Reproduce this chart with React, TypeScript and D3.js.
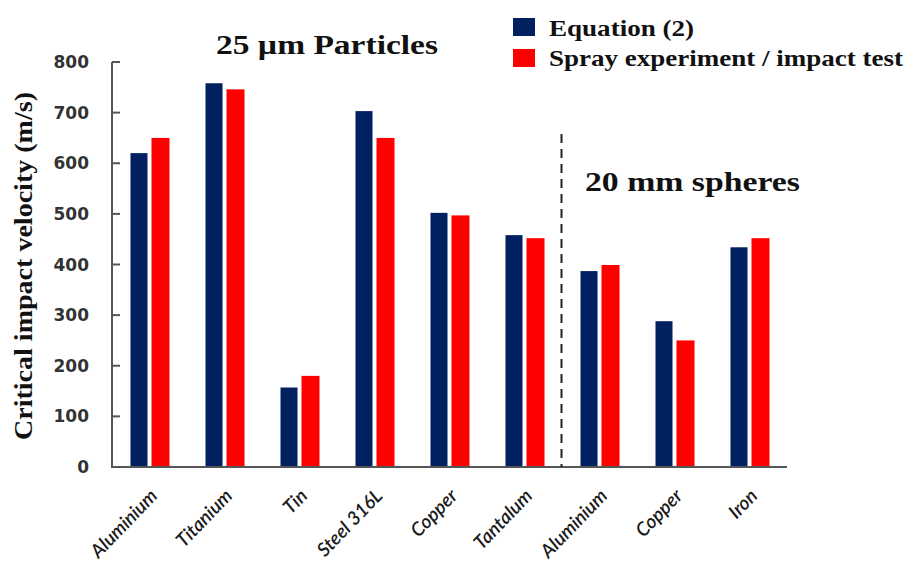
import React from "react";
import * as d3 from "d3";

const categories = ["Aluminium", "Titanium", "Tin", "Steel 316L", "Copper", "Tantalum", "Aluminium", "Copper", "Iron"];
const equationValues = [620, 758, 157, 703, 502, 458, 387, 288, 434];
const experimentValues = [650, 746, 180, 650, 497, 452, 399, 250, 452];
const seriesNames = ["Equation (2)", "Spray experiment / impact test"];
const seriesColors = ["#002060", "#FF0000"];
const yTicks = [0, 100, 200, 300, 400, 500, 600, 700, 800];

const W = 904, H = 563;
const left = 112, right = 787, top = 62, bottom = 467;

export default function App() {
  const x = d3.scaleBand<number>().domain(d3.range(categories.length)).range([left, right]).padding(0);
  const y = d3.scaleLinear().domain([0, 800]).range([bottom, top]);
  const barW = 17, gap = 4;
  const serif = "'Liberation Serif', serif";
  const axisColor = "#555";
  const dashX = x(6)! - 0.5;
  const legendLens = [145, 354];
  return (
    <svg width={W} height={H} style={{ position: "absolute", left: 0, top: 0, background: "#fff" }}>
      {categories.map((c, i) => {
        const cx = x(i)! + x.bandwidth() / 2;
        return (
          <g key={i}>
            <rect x={cx - gap / 2 - barW} y={y(equationValues[i])} width={barW} height={y(0) - y(equationValues[i])} fill={seriesColors[0]} />
            <rect x={cx + gap / 2} y={y(experimentValues[i])} width={barW + 1} height={y(0) - y(experimentValues[i])} fill={seriesColors[1]} />
            <text
              transform={`translate(${cx + 9},${bottom + 30}) rotate(-46)`}
              textAnchor="end"
              fontFamily="Lato, 'Open Sans', sans-serif"
              fontStyle="italic"
              fontWeight={600}
              fontSize={19}
              fill="#1a1a1a"
            >
              {c}
            </text>
          </g>
        );
      })}
      {/* axes */}
      <line x1={left} x2={left} y1={top} y2={bottom} stroke={axisColor} strokeWidth={2} />
      <line x1={left - 1} x2={right} y1={bottom} y2={bottom} stroke={axisColor} strokeWidth={2} />
      {yTicks.map((t) => (
        <g key={t}>
          <line x1={left} x2={left + 8} y1={y(t)} y2={y(t)} stroke={axisColor} strokeWidth={2} />
          <text x={89} y={y(t)} dy="0.36em" textAnchor="end" fontFamily="'DejaVu Sans', sans-serif" fontWeight="bold" fontSize={17} fill="#333">
            {t}
          </text>
        </g>
      ))}
      <line x1={dashX} x2={dashX} y1={134} y2={bottom} stroke="#222" strokeWidth={2} strokeDasharray="9,6" />
      <text
        transform={`translate(32,266) rotate(-90)`}
        textAnchor="middle"
        fontFamily={serif}
        fontWeight="bold"
        fontSize={25}
        fill="#111"
        textLength={348}
        lengthAdjust="spacingAndGlyphs"
      >
        Critical impact velocity (m/s)
      </text>
      <text x={216} y={54} fontFamily={serif} fontWeight="bold" fontSize={28} fill="#111" textLength={222} lengthAdjust="spacingAndGlyphs">
        25 µm Particles
      </text>
      <text x={585} y={191} fontFamily={serif} fontWeight="bold" fontSize={28} fill="#111" textLength={215} lengthAdjust="spacingAndGlyphs">
        20 mm spheres
      </text>
      {seriesNames.map((s, i) => (
        <g key={s}>
          <rect x={513} y={18 + i * 31} width={22} height={18} fill={seriesColors[i]} />
          <text
            x={549}
            y={36 + i * 30}
            fontFamily={serif}
            fontWeight="bold"
            fontSize={24}
            fill="#111"
            textLength={legendLens[i]}
            lengthAdjust="spacingAndGlyphs"
          >
            {s}
          </text>
        </g>
      ))}
    </svg>
  );
}
